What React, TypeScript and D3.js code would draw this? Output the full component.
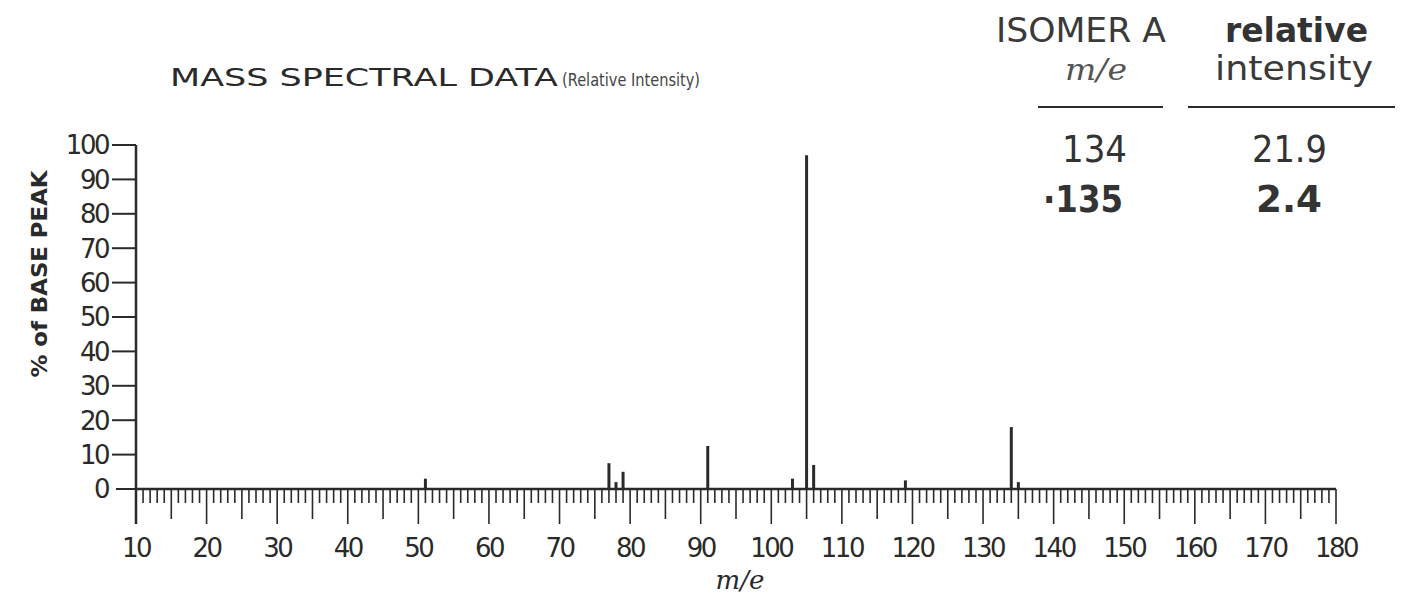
import React from 'react';
import * as d3 from 'd3';

// peaks
const massValues = [51, 77, 78, 79, 91, 103, 105, 106, 119, 134, 135];
const intensities = [3, 7.5, 2, 5, 12.5, 3, 97, 7, 2.5, 18, 2];

const yTickValues = [0, 10, 20, 30, 40, 50, 60, 70, 80, 90, 100];
const xTickLabels = [10, 20, 30, 40, 50, 60, 70, 80, 90, 100, 110, 120, 130, 140, 150, 160, 170, 180];

const tableMz = ['134', '·135'];
const tableIntensity = ['21.9', '2.4'];

const ink = '#2a2a2a';
const font = '"DejaVu Sans", "Open Sans", sans-serif';
const serif = '"DejaVu Serif", serif';

export default function App() {
  const width = 1402, height = 596;

  const x = d3.scaleLinear().domain([10, 180]).range([136, 1336]);
  const y = d3.scaleLinear().domain([0, 100]).range([489, 145]);

  const minorTicks = d3.range(10, 181);

  return (
    <svg width={width} height={height}
      style={{ position: 'absolute', left: 0, top: 0, background: '#fff' }}>
      {/* title */}
      <text x={170} y={86} fontFamily={font} fontSize={25} fill={ink}
        textLength={388} lengthAdjust="spacingAndGlyphs">MASS SPECTRAL DATA</text>
      <text x={562} y={86} fontFamily={font} fontSize={18} fill="#444"
        textLength={138} lengthAdjust="spacingAndGlyphs">(Relative Intensity)</text>

      {/* y axis */}
      <line x1={x(10)} x2={x(10)} y1={y(100)} y2={524} stroke={ink} strokeWidth={2.5} />
      {yTickValues.map(v => (
        <g key={'y' + v}>
          <line x1={v === 0 ? 116 : 112} x2={x(10)} y1={y(v)} y2={y(v)} stroke={ink} strokeWidth={2} />
          <text x={108} y={y(v)} dy="0.36em" textAnchor="end" fontFamily={font}
            fontSize={26} fill={ink} letterSpacing={-2.5}>{v}</text>
        </g>
      ))}
      <text transform={`translate(47, 274) rotate(-90)`} textAnchor="middle"
        fontFamily={font} fontSize={21} fontWeight="bold" fill={ink}
        textLength={207} lengthAdjust="spacingAndGlyphs">% of BASE PEAK</text>

      {/* x axis */}
      <line x1={x(10)} x2={x(180)} y1={y(0)} y2={y(0)} stroke={ink} strokeWidth={2.5} />
      {minorTicks.map(v => {
        const len = v % 10 === 0 ? 35 : v % 5 === 0 ? 30 : 14;
        return (
          <line key={'xt' + v} x1={x(v)} x2={x(v)} y1={y(0)} y2={y(0) + len}
            stroke={ink} strokeWidth={1.6} />
        );
      })}
      {xTickLabels.map(v => (
        <text key={'xl' + v} x={x(v)} y={557} textAnchor="middle" fontFamily={font}
          fontSize={26} fill={ink} letterSpacing={-2.5}>{v}</text>
      ))}
      <text x={740} y={589} textAnchor="middle" fontFamily={serif}
        fontStyle="italic" fontSize={26} fill={ink}>m/e</text>

      {/* peaks */}
      {massValues.map((m, i) => (
        <line key={'p' + m} x1={x(m)} x2={x(m)} y1={y(0)} y2={y(intensities[i])}
          stroke={ink} strokeWidth={3} />
      ))}

      {/* isomer table */}
      <text x={996} y={42} fontFamily={font} fontSize={34} fill="#3a3a3a"
        textLength={170} lengthAdjust="spacingAndGlyphs">ISOMER A</text>
      <text x={1225} y={42} fontFamily={font} fontSize={34} fontWeight="bold" fill="#333"
        textLength={143} lengthAdjust="spacingAndGlyphs">relative</text>
      <text x={1065} y={80} fontFamily={serif} fontStyle="italic" fontSize={30} fill="#555"
        textLength={62} lengthAdjust="spacingAndGlyphs">m/e</text>
      <text x={1215} y={80} fontFamily={font} fontSize={34} fill="#3a3a3a"
        textLength={158} lengthAdjust="spacingAndGlyphs">intensity</text>
      <line x1={1038} x2={1163} y1={107} y2={107} stroke={ink} strokeWidth={2} />
      <line x1={1188} x2={1395} y1={107} y2={107} stroke={ink} strokeWidth={2} />
      {tableMz.map((t, i) => (
        <g key={'row' + i}>
          <text x={i === 0 ? 1062 : 1043} y={162 + i * 50} fontFamily={font}
            fontSize={38} fontWeight={i === 1 ? 'bold' : 'normal'} fill="#333"
            textLength={i === 0 ? 65 : 80} lengthAdjust="spacingAndGlyphs">{t}</text>
          <text x={i === 0 ? 1252 : 1256} y={162 + i * 50} fontFamily={font}
            fontSize={38} fontWeight={i === 1 ? 'bold' : 'normal'} fill="#333"
            textLength={i === 0 ? 75 : 66} lengthAdjust="spacingAndGlyphs">{tableIntensity[i]}</text>
        </g>
      ))}
    </svg>
  );
}
